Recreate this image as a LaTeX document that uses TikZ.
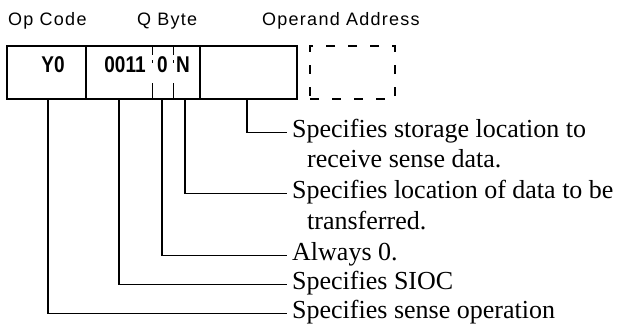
\documentclass[tikz,border=0pt]{standalone}
\usepackage{fontspec}
\setmainfont{Liberation Serif}
\newfontfamily\labfont[LetterSpace=7]{Liberation Sans}
\newfontfamily\cellfont{Liberation Sans}
\begin{document}
\begin{tikzpicture}[x=1pt,y=1pt,
  cellbox/.style={draw, line width=1.5pt, inner sep=0pt, outer sep=0pt, anchor=north west, minimum height=53pt},
  dashbox/.style={draw, line width=1.5pt, dash pattern=on 9pt off 13pt, inner sep=0pt, outer sep=0pt, anchor=north west, minimum height=53pt},
  qdiv/.style={line width=1pt, dash pattern=on 9pt off 5pt on 3pt off 20pt on 16pt},
  conn/.style={line width=1.3pt},
  lab/.style={inner sep=0pt, anchor=base west, font=\labfont\fontsize{18}{21}\selectfont},
  celltxt/.style={inner sep=0pt, anchor=base, font=\cellfont\bfseries\fontsize{19}{22}\selectfont},
  desc/.style={inner sep=0pt, anchor=base west, font=\fontsize{26}{30}\selectfont}]
\useasboundingbox (0,0) rectangle (634,-332);
\fill[white] (0,0) rectangle (634,-332);
% header labels
\node[lab] (lop) at (8,-25) {Op Code};
\node[lab] (lq) at (137,-25) {Q Byte};
\node[lab] (laddr) at (262,-25) {Operand Address};
% instruction cells
\node[cellbox, minimum width=79pt] (op) at (7,-46) {};
\node[cellbox, minimum width=114pt] (q) at (86,-46) {};
\node[cellbox, minimum width=97pt] (addr) at (200,-46) {};
\node[dashbox, minimum width=85pt] (more) at (310,-46) {};
\draw[qdiv] ([xshift=66pt]q.north west) -- ([xshift=66pt]q.south west);
\draw[qdiv] ([xshift=87pt]q.north west) -- ([xshift=87pt]q.south west);
% cell texts
\node[celltxt] (ty) at (53,-72) {\scalebox{1}[1.2]{Y0}};
\node[celltxt] (tq) at (125,-72) {\scalebox{1}[1.2]{0011}};
\node[celltxt] (tz) at (162.5,-72) {\scalebox{1}[1.2]{0}};
\node[celltxt] (tn) at (183,-72) {\scalebox{1}[1.2]{N}};
% descriptions
\node[desc] (t1) at (292,-137) {Specifies storage location to};
\node[desc] (t1b) at (307,-167) {receive sense data.};
\node[desc] (t2) at (292,-198) {Specifies location of data to be};
\node[desc] (t2b) at (307,-229) {transferred.};
\node[desc] (t3) at (292,-260) {Always 0.};
\node[desc] (t4) at (292,-289) {Specifies SIOC};
\node[desc] (t5) at (292,-318) {Specifies sense operation};
% connectors
\draw[conn] ([xshift=47pt]addr.south west) |- ([xshift=-5pt,yshift=4.5pt]t1.base west);
\draw[conn] ([xshift=99pt]q.south west) |- ([xshift=-5pt,yshift=4.5pt]t2.base west);
\draw[conn] ([xshift=76pt]q.south west) |- ([xshift=-5pt,yshift=4.5pt]t3.base west);
\draw[conn] ([xshift=33pt]q.south west) |- ([xshift=-5pt,yshift=4.5pt]t4.base west);
\draw[conn] ([xshift=41pt]op.south west) |- ([xshift=-5pt,yshift=4.5pt]t5.base west);
\end{tikzpicture}
\end{document}
